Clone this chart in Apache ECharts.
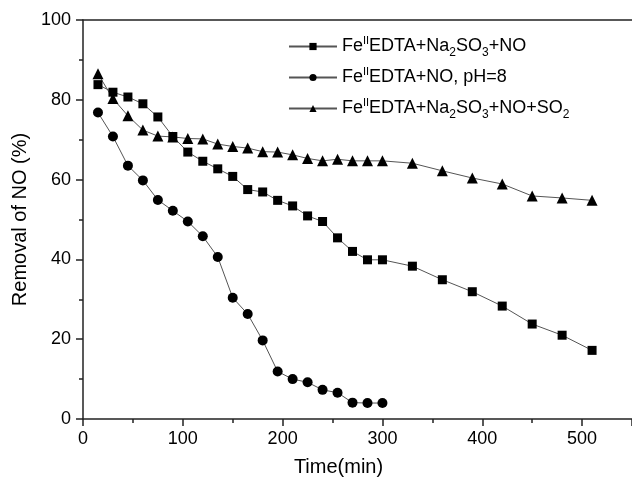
<!DOCTYPE html>
<html>
<head>
<meta charset="utf-8">
<script src="https://cdn.jsdelivr.net/npm/echarts@6/dist/echarts.min.js"></script>
<style>
  html, body { margin: 0; padding: 0; background: #fff; }
  #chart { width: 632px; height: 482px; }
</style>
</head>
<body>
<div id="chart"></div>
<script>
// time points (min)
const timeLong = [15, 30, 45, 60, 75, 90, 105, 120, 135, 150, 165, 180, 195, 210, 225,
  240, 255, 270, 285, 300, 330, 360, 390, 420, 450, 480, 510];
const timeShort = [15, 30, 45, 60, 75, 90, 105, 120, 135, 150, 165, 180, 195, 210, 225,
  240, 255, 270, 285, 300];

// removal of NO (%)
const removalSulfite = [83.8, 81.9, 80.7, 79.0, 75.7, 70.8, 66.9, 64.6, 62.7, 60.8, 57.5, 56.9,
  54.8, 53.4, 50.9, 49.5, 45.4, 42.0, 39.9, 39.9, 38.3, 34.9, 31.9, 28.3, 23.8, 21.0, 17.2];
const removalPH8 = [76.8, 70.8, 63.5, 59.8, 54.9, 52.2, 49.5, 45.8, 40.6, 30.4, 26.3, 19.7,
  11.9, 10.0, 9.2, 7.3, 6.6, 4.1, 4.0, 4.0];
const removalSO2 = [86.5, 80.3, 76.0, 72.4, 70.9, 70.7, 70.3, 70.2, 68.9, 68.3, 67.9, 67.0,
  66.9, 66.2, 65.3, 64.7, 65.1, 64.7, 64.7, 64.7, 64.1, 62.2, 60.4, 58.9, 55.9, 55.4, 54.8];

const seriesNames = [
  'Fe{sup|II}EDTA+Na{sub|2}SO{sub|3}+NO',
  'Fe{sup|II}EDTA+NO, pH=8',
  'Fe{sup|II}EDTA+Na{sub|2}SO{sub|3}+NO+SO{sub|2}'
];

const xTicks = [0, 100, 200, 300, 400, 500];
const yTicks = [0, 20, 40, 60, 80, 100];

const font = 'Arial, "Liberation Sans", sans-serif';

function pairs(xs, ys) {
  return xs.map((x, i) => [x, ys[i]]);
}

function makeSeries(name, xs, ys, symbol, size) {
  return {
    name: name,
    type: 'line',
    data: pairs(xs, ys),
    symbol: symbol,
    symbolSize: size,
    showAllSymbol: true,
    lineStyle: { color: '#555', width: 1 },
    itemStyle: { color: '#000', borderWidth: 0 },
    emphasis: { disabled: true },
    animation: false
  };
}

const chart = echarts.init(document.getElementById('chart'), null, { renderer: 'canvas' });

chart.setOption({
  backgroundColor: '#fff',
  grid: { left: 83, right: 0, top: 20, bottom: 58.7, containLabel: false },
  legend: {
    orient: 'vertical',
    left: 283,
    top: 29,
    padding: 5,
    itemWidth: 48,
    itemHeight: 9,
    itemGap: 6,
    textStyle: {
      color: '#000',
      fontFamily: font,
      fontSize: 18,
      lineHeight: 25,
      rich: {
        sup: { fontSize: 11, fontFamily: font, color: '#000', lineHeight: 13, padding: [0, 0, 12, 0] },
        sub: { fontSize: 12, fontFamily: font, color: '#000', lineHeight: 13, padding: [13, 0, 0, 0] }
      }
    },
    data: seriesNames
  },
  xAxis: [{
    type: 'value',
    min: 0,
    max: 550,
    interval: 100,
    name: 'Time(min)',
    nameLocation: 'middle',
    nameGap: 38,
    nameTextStyle: { color: '#000', fontFamily: font, fontSize: 20, padding: [0, 38, 0, 0] },
    axisLine: { show: true, onZero: false, lineStyle: { color: '#222', width: 1.5 } },
    axisTick: { show: true, inside: false, length: 7, lineStyle: { color: '#222', width: 1.5 } },
    minorTick: { show: true, splitNumber: 2, length: 4, lineStyle: { color: '#222', width: 1.5 } },
    axisLabel: {
      color: '#000', fontFamily: font, fontSize: 18, margin: 11, showMaxLabel: false,
      formatter: v => (xTicks.indexOf(v) >= 0 ? String(v) : '')
    },
    splitLine: { show: false }
  }, {
    type: 'value',
    position: 'top',
    min: 0,
    max: 550,
    axisLine: { show: true, onZero: false, lineStyle: { color: '#222', width: 1.5 } },
    axisTick: { show: false },
    axisLabel: { show: false },
    splitLine: { show: false }
  }],
  yAxis: {
    type: 'value',
    min: 0,
    max: 100,
    interval: 20,
    name: 'Removal of NO (%)',
    nameLocation: 'middle',
    nameGap: 52,
    nameTextStyle: { color: '#000', fontFamily: font, fontSize: 20 },
    axisLine: { show: true, onZero: false, lineStyle: { color: '#222', width: 1.5 } },
    axisTick: { show: true, inside: false, length: 7, lineStyle: { color: '#222', width: 1.5 } },
    minorTick: { show: true, splitNumber: 2, length: 4, lineStyle: { color: '#222', width: 1.5 } },
    axisLabel: {
      color: '#000', fontFamily: font, fontSize: 18, margin: 12,
      formatter: v => (yTicks.indexOf(v) >= 0 ? String(v) : '')
    },
    splitLine: { show: false }
  },
  series: [
    makeSeries(seriesNames[0], timeLong, removalSulfite, 'rect', 9),
    makeSeries(seriesNames[1], timeShort, removalPH8, 'circle', 10),
    makeSeries(seriesNames[2], timeLong, removalSO2, 'triangle', 11)
  ]
});
</script>
</body>
</html>
